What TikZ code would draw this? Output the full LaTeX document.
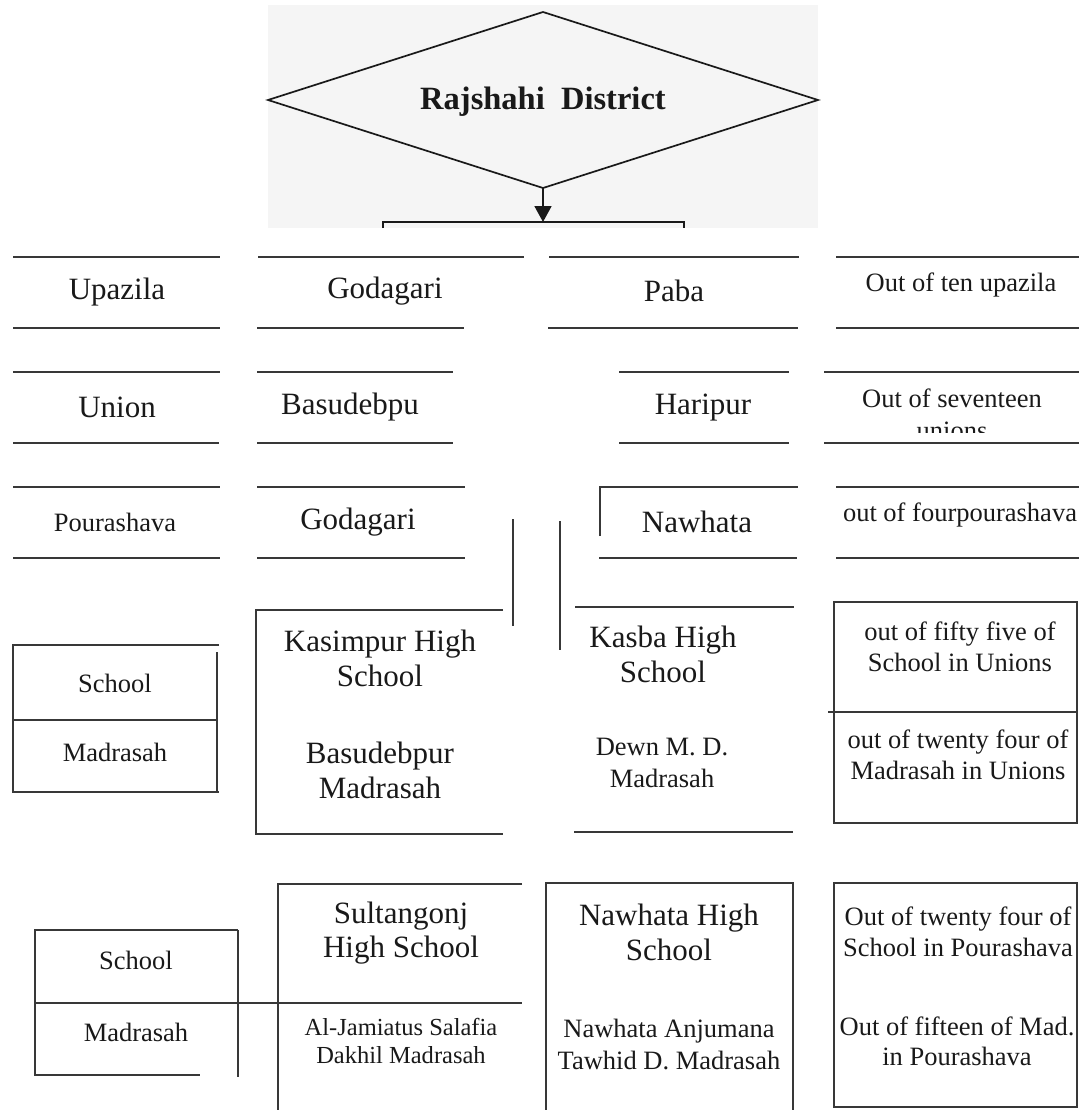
\documentclass[tikz,border=0pt]{standalone}
\usepackage{fontspec}
\setmainfont{Liberation Serif}
\usetikzlibrary{shapes.geometric,arrows.meta}
\begin{document}
\begin{tikzpicture}[x=1pt,y=-1pt,
  ln/.style={line width=1.7pt, draw=black!78},
  big/.style={font=\fontsize{31}{35}\selectfont, align=center, inner sep=0pt, text=black!90},
  sml/.style={font=\fontsize{26.5}{31}\selectfont, align=center, inner sep=0pt, text=black!90},
  tiny/.style={font=\fontsize{24.5}{28}\selectfont, align=center, inner sep=0pt, text=black!90},
]
\useasboundingbox (0,0) rectangle (1079,1110);
% scanned header background
\fill[black!4] (268,5) rectangle (818,228);
\node[diamond, draw=black!90, line width=1.7pt, aspect=3.1, minimum width=550pt, minimum height=176pt,
      inner sep=0pt, outer sep=0pt] (dist) at (543,100) {};
\node[font=\bfseries\fontsize{32.5}{36}\selectfont, inner sep=0pt, text=black!90] (distlbl) at (543,102) {Rajshahi\hspace{0.5em}District};
\coordinate (barL) at (383,222);
\coordinate (barR) at (684,222);
\draw[ln, draw=black!90] ([yshift=-6pt]barL) -- (barL) -- (barR) -- ([yshift=-6pt]barR);
\draw[line width=1.7pt, draw=black!90, -{Triangle[width=17pt,length=16pt]}] (dist.south) -- (dist.south |- barL);

% ---------- Row 1 : Upazila ----------
\draw[ln] (13,257) -- (220,257);  \draw[ln] (13,328) -- (220,328);
\draw[ln] (258,257) -- (524,257); \draw[ln] (257,328) -- (464,328);
\draw[ln] (549,257) -- (799,257); \draw[ln] (548,328) -- (798,328);
\draw[ln] (836,257) -- (1079,257); \draw[ln] (836,328) -- (1079,328);
\node[big] (upz) at (117,292) {Upazila};
\node[big] (god1) at (385,291) {Godagari};
\node[big] (paba) at (674,291) {Paba};
\node[sml] (out1) at (961,285) {Out of ten upazila};

% ---------- Row 2 : Union ----------
\draw[ln] (13,372) -- (220,372);  \draw[ln] (13,443) -- (219,443);
\draw[ln] (257,372) -- (453,372); \draw[ln] (257,443) -- (453,443);
\draw[ln] (619,372) -- (789,372); \draw[ln] (619,443) -- (789,443);
\draw[ln] (824,372) -- (1079,372); \draw[ln] (824,443) -- (1079,443);
\node[big] (uni) at (117,407) {Union};
\node[big] (basu) at (350,407) {Basudebpu};
\node[big] (hari) at (703,408) {Haripur};
\node[sml, anchor=base] (out2) at (952,407) {Out of seventeen};
\begin{scope}
  \clip (824,373) rectangle (1079,432);
  \node[sml, anchor=base] (out2b) at (952,439) {unions};
\end{scope}

% ---------- Row 3 : Pourashava ----------
\draw[ln] (13,487) -- (220,487);  \draw[ln] (13,558) -- (220,558);
\draw[ln] (257,487) -- (465,487); \draw[ln] (257,558) -- (465,558);
\draw[ln] (600,536) -- (600,487) -- (798,487); \draw[ln] (599,558) -- (797,558);
\draw[ln] (836,487) -- (1079,487); \draw[ln] (836,558) -- (1079,558);
\node[sml] (pou) at (115,522) {Pourashava};
\node[big] (god2) at (358,522) {Godagari};
\node[big] (naw) at (697,522) {Nawhata};
\node[sml] (out3) at (960,515) {out of fourpourashava};

\draw[ln] (513,519) -- (513,626);
\draw[ln] (560,521) -- (560,650);

% ---------- Row 4 : Union schools ----------
\draw[ln] (219,645) -- (13,645) -- (13,792) -- (219,792);
\draw[ln] (217,652) -- (217,792);
\draw[ln] (13,720) -- (217,720);
\node[sml] (sch1) at (115,683) {School};
\node[sml] (mad1) at (115,752) {Madrasah};

\draw[ln] (503,610) -- (256,610) -- (256,834) -- (503,834);
\node[big] (kas) at (380,658) {Kasimpur High\\School};
\node[big] (bmad) at (380,770) {Basudebpur\\Madrasah};

\draw[ln] (575,607) -- (794,607);
\draw[ln] (574,832) -- (793,832);
\node[big] (kasba) at (663,654) {Kasba High\\School};
\node[sml, font=\fontsize{26.5}{32}\selectfont] (dewn) at (662,763) {Dewn M. D.\\Madrasah};

\draw[ln] (834,602) rectangle (1077,823);
\draw[ln] (828,712) -- (1077,712);
\node[sml] (o4a) at (960,647) {out of fifty five of\\School in Unions};
\node[sml] (o4b) at (958,755) {out of twenty four of\\Madrasah in Unions};

% ---------- Row 5 : Pourashava schools ----------
\draw[ln] (238,930) -- (35,930) -- (35,1075) -- (200,1075);
\draw[ln] (238,930) -- (238,1077);
\draw[ln] (35,1003) -- (522,1003);
\node[sml] (sch2) at (136,960) {School};
\node[sml] (mad2) at (136,1032) {Madrasah};

\draw[ln] (522,884) -- (278,884) -- (278,1110);
\node[big, font=\fontsize{31}{34}\selectfont] (sul) at (401,933) {Sultangonj\\High School};
\node[tiny] (alj) at (401,1041) {Al-Jamiatus Salafia\\Dakhil Madrasah};

\draw[ln] (546,1110) -- (546,883) -- (793,883) -- (793,1110);
\node[big] (nhs) at (669,932) {Nawhata High\\School};
\node[sml, font=\fontsize{26.5}{32}\selectfont] (nam) at (669,1044) {Nawhata Anjumana\\Tawhid D. Madrasah};

\draw[ln] (834,883) rectangle (1077,1107);
\node[sml] (o5a) at (958,932) {Out of twenty four of\\School in Pourashava};
\node[sml, font=\fontsize{26.5}{30}\selectfont] (o5b) at (957,1041) {Out of fifteen of Mad.\\in Pourashava};
\end{tikzpicture}
\end{document}
